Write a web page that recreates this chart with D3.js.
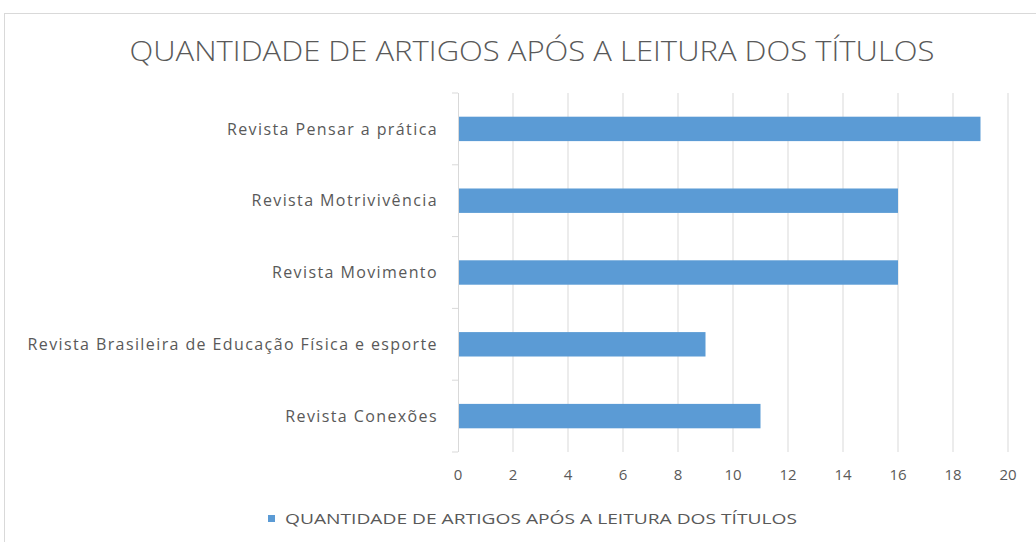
<!DOCTYPE html>
<html>
<head>
<meta charset="utf-8">
<script src="https://cdn.jsdelivr.net/npm/d3@7"></script>
<style>
  body { margin: 0; background: #fff; }
  svg { display: block; }
  text { font-family: "Open Sans", "Liberation Sans", sans-serif; fill: #595959; }
</style>
</head>
<body>
<div id="graphicContainer"></div>
<script>

const categories = [
  "Revista Pensar a prática",
  "Revista Motrivivência",
  "Revista Movimento",
  "Revista Brasileira de Educação Física e esporte",
  "Revista Conexões"
]

const values = [19, 16, 16, 9, 11]

const xTicks = [0, 2, 4, 6, 8, 10, 12, 14, 16, 18, 20]

const title = "QUANTIDADE DE ARTIGOS APÓS A LEITURA DOS TÍTULOS"
const seriesName = "QUANTIDADE DE ARTIGOS APÓS A LEITURA DOS TÍTULOS"

const data = categories.map((c, i) => ({ label: c, value: values[i] }))

const width = 1036
const height = 542
const marginleft = 458
const marginright = 28
const margintop = 93
const marginbottom = 90

const innerW = width - marginleft - marginright
const innerH = height - margintop - marginbottom

const svg = d3.select("#graphicContainer")
  .append("svg")
  .attr("width", width)
  .attr("height", height)

// chart frame
svg.append("rect")
  .attr("x", 4.5)
  .attr("y", 13.5)
  .attr("width", 1040)
  .attr("height", 540)
  .attr("fill", "none")
  .attr("stroke", "#d9d9d9")

svg.append("text")
  .attr("x", 532)
  .attr("y", 61)
  .attr("text-anchor", "middle")
  .attr("font-size", 28)
  .attr("textLength", 805)
  .attr("lengthAdjust", "spacingAndGlyphs")
  .style("font-weight", 300)
  .text(title)

const features = svg.append("g")
  .attr("transform", "translate(" + marginleft + "," + margintop + ")")

const x = d3.scaleLinear()
  .domain([0, 20])
  .range([0, innerW])

const y = d3.scaleBand()
  .domain(categories)
  .range([0, innerH])
  .paddingInner(0.66)
  .paddingOuter(0.33)

// gridlines
features.append("g")
  .selectAll("line")
  .data(xTicks.filter(d => d > 0))
  .enter()
  .append("line")
  .attr("x1", d => x(d))
  .attr("x2", d => x(d))
  .attr("y1", 0)
  .attr("y2", innerH)
  .attr("stroke", "#d9d9d9")
  .attr("stroke-width", 1)

// bars
features.append("g")
  .selectAll("rect")
  .data(data)
  .enter()
  .append("rect")
  .attr("x", x(0))
  .attr("y", d => y(d.label))
  .attr("width", d => x(d.value) - x(0))
  .attr("height", y.bandwidth())
  .attr("fill", "#5b9bd5")

// category axis line and ticks
const step = innerH / categories.length
features.append("line")
  .attr("x1", 0.5).attr("x2", 0.5)
  .attr("y1", 0).attr("y2", innerH)
  .attr("stroke", "#d9d9d9")

features.append("g")
  .selectAll("line")
  .data(d3.range(categories.length + 1))
  .enter()
  .append("line")
  .attr("x1", -6)
  .attr("x2", 0)
  .attr("y1", d => d * step)
  .attr("y2", d => d * step)
  .attr("stroke", "#d9d9d9")

// category labels
features.append("g")
  .selectAll("text")
  .data(data)
  .enter()
  .append("text")
  .attr("x", -20)
  .attr("y", d => y(d.label) + y.bandwidth() / 2)
  .attr("dy", "0.35em")
  .attr("text-anchor", "end")
  .attr("font-size", 16)
  .style("letter-spacing", "1.4px")
  .text(d => d.label)

// x tick labels
features.append("g")
  .selectAll("text")
  .data(xTicks)
  .enter()
  .append("text")
  .attr("x", d => x(d))
  .attr("y", innerH + 28)
  .attr("text-anchor", "middle")
  .attr("font-size", 15)
  .text(d => d)

// legend
const legend = svg.append("g")
  .attr("transform", "translate(268,519)")

legend.append("rect")
  .attr("x", 0)
  .attr("y", -4)
  .attr("width", 7)
  .attr("height", 7)
  .attr("fill", "#5b9bd5")

legend.append("text")
  .attr("x", 17)
  .attr("y", 0)
  .attr("dy", "0.35em")
  .attr("font-size", 14.5)
  .attr("textLength", 512)
  .attr("lengthAdjust", "spacingAndGlyphs")
  .text(seriesName)

</script>
</body>
</html>
